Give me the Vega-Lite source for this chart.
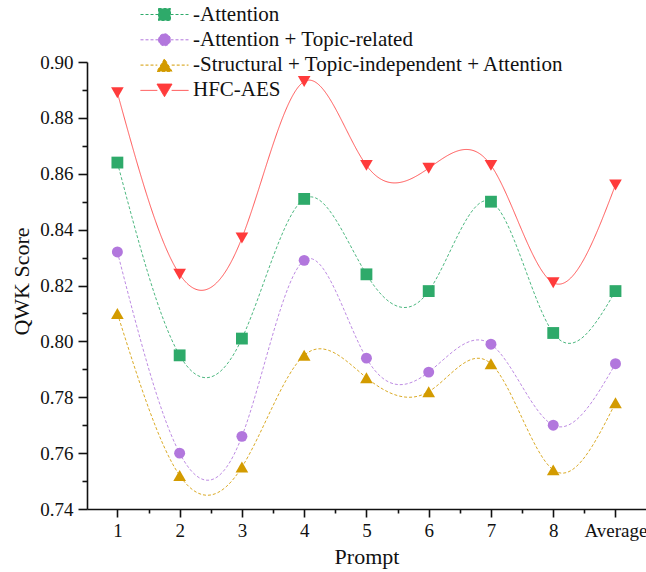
{
  "$schema": "https://vega.github.io/schema/vega-lite/v6.json",
  "width": 559,
  "height": 447,
  "autosize": {"type": "none"},
  "padding": {"left": 87, "top": 62, "right": 0, "bottom": 63},
  "background": "white",
  "config": {
    "view": {"stroke": null},
    "font": "Liberation Serif",
    "axis": {"labelFont": "Liberation Serif", "titleFont": "Liberation Serif", "labelColor": "#111", "titleColor": "#111", "domainColor": "#111", "tickColor": "#111", "titleFontWeight": "normal"},
    "legend": {"labelFont": "Liberation Serif"}
  },
  "data": {
    "values": [
      {"prompt": 1, "series": "-Attention", "qwk": 0.864},
      {"prompt": 2, "series": "-Attention", "qwk": 0.795},
      {"prompt": 3, "series": "-Attention", "qwk": 0.801},
      {"prompt": 4, "series": "-Attention", "qwk": 0.851},
      {"prompt": 5, "series": "-Attention", "qwk": 0.824},
      {"prompt": 6, "series": "-Attention", "qwk": 0.818},
      {"prompt": 7, "series": "-Attention", "qwk": 0.850},
      {"prompt": 8, "series": "-Attention", "qwk": 0.803},
      {"prompt": 9, "series": "-Attention", "qwk": 0.818},
      {"prompt": 1, "series": "-Attention + Topic-related", "qwk": 0.832},
      {"prompt": 2, "series": "-Attention + Topic-related", "qwk": 0.760},
      {"prompt": 3, "series": "-Attention + Topic-related", "qwk": 0.766},
      {"prompt": 4, "series": "-Attention + Topic-related", "qwk": 0.829},
      {"prompt": 5, "series": "-Attention + Topic-related", "qwk": 0.794},
      {"prompt": 6, "series": "-Attention + Topic-related", "qwk": 0.789},
      {"prompt": 7, "series": "-Attention + Topic-related", "qwk": 0.799},
      {"prompt": 8, "series": "-Attention + Topic-related", "qwk": 0.770},
      {"prompt": 9, "series": "-Attention + Topic-related", "qwk": 0.792},
      {"prompt": 1, "series": "-Structural + Topic-independent + Attention", "qwk": 0.810},
      {"prompt": 2, "series": "-Structural + Topic-independent + Attention", "qwk": 0.752},
      {"prompt": 3, "series": "-Structural + Topic-independent + Attention", "qwk": 0.755},
      {"prompt": 4, "series": "-Structural + Topic-independent + Attention", "qwk": 0.795},
      {"prompt": 5, "series": "-Structural + Topic-independent + Attention", "qwk": 0.787},
      {"prompt": 6, "series": "-Structural + Topic-independent + Attention", "qwk": 0.782},
      {"prompt": 7, "series": "-Structural + Topic-independent + Attention", "qwk": 0.792},
      {"prompt": 8, "series": "-Structural + Topic-independent + Attention", "qwk": 0.754},
      {"prompt": 9, "series": "-Structural + Topic-independent + Attention", "qwk": 0.778},
      {"prompt": 1, "series": "HFC-AES", "qwk": 0.889},
      {"prompt": 2, "series": "HFC-AES", "qwk": 0.824},
      {"prompt": 3, "series": "HFC-AES", "qwk": 0.837},
      {"prompt": 4, "series": "HFC-AES", "qwk": 0.893},
      {"prompt": 5, "series": "HFC-AES", "qwk": 0.863},
      {"prompt": 6, "series": "HFC-AES", "qwk": 0.862},
      {"prompt": 7, "series": "HFC-AES", "qwk": 0.863},
      {"prompt": 8, "series": "HFC-AES", "qwk": 0.821},
      {"prompt": 9, "series": "HFC-AES", "qwk": 0.856}
    ]
  },
  "encoding": {
    "x": {
      "field": "prompt", "type": "quantitative",
      "scale": {"domain": [0.512, 9.49], "nice": false, "zero": false},
      "axis": {
        "title": "Prompt", "titleFontSize": 22, "titlePadding": 6,
        "values": [1, 1.5, 2, 2.5, 3, 3.5, 4, 4.5, 5, 5.5, 6, 6.5, 7, 7.5, 8, 8.5, 9],
        "labelExpr": "datum.value == 9 ? 'Average' : (datum.value % 1 == 0 ? format(datum.value, 'd') : '')",
        "labelFontSize": 19, "labelPadding": 4, "labelFlush": false, "labelOverlap": false,
        "grid": false, "domainWidth": 1.6, "tickWidth": 1.6,
        "tickSize": {"condition": {"test": "datum.value % 1 != 0", "value": 4}, "value": 8}
      }
    },
    "y": {
      "field": "qwk", "type": "quantitative",
      "scale": {"domain": [0.74, 0.90], "nice": false, "zero": false},
      "axis": {
        "title": "QWK Score", "titleFontSize": 22, "titlePadding": 6, "titleY": 219,
        "values": [0.74, 0.75, 0.76, 0.77, 0.78, 0.79, 0.80, 0.81, 0.82, 0.83, 0.84, 0.85, 0.86, 0.87, 0.88, 0.89, 0.90],
        "labelExpr": "round(datum.value * 100) % 2 == 0 ? format(datum.value, '.2f') : ''",
        "labelFontSize": 19, "labelPadding": 5, "labelOverlap": false, "labelFlush": false,
        "grid": false, "domainWidth": 1.6, "tickWidth": 1.6,
        "tickSize": {"condition": {"test": "round(datum.value * 100) % 2 != 0", "value": 5}, "value": 9}
      }
    },
    "color": {
      "field": "series", "type": "nominal",
      "scale": {
        "domain": ["-Attention", "-Attention + Topic-related", "-Structural + Topic-independent + Attention", "HFC-AES"],
        "range": ["#2eaa6a", "#b277dd", "#d39b00", "#ff3b3b"]
      },
      "legend": {
        "title": null, "orient": "none", "legendX": 67, "legendY": -58,
        "padding": 0, "labelFontSize": 21, "labelColor": "#111", "labelOffset": 18,
        "symbolSize": 144, "rowPadding": 3.3, "labelLimit": 400,
        "encode": {
          "symbols": {
            "update": {
              "shape": {"signal": "datum.value == '-Attention' ? 'M-4,0H-1M1,0H4M-1,-1H1V1H-1Z' : datum.value == '-Attention + Topic-related' ? 'M-4,0H-1M1,0H4M-1,0A1,1 0 1,0 1,0A1,1 0 1,0 -1,0Z' : datum.value == 'HFC-AES' ? 'M-4,0H-1.2M1.2,0H4M-1.25,-1.05H1.25L0,1.05Z' : 'M-4,0H-1.2M1.2,0H4M-1.25,1.05H1.25L0,-1.05Z'"},
              "strokeDash": {"signal": "datum.value == 'HFC-AES' ? [1, 0] : [3, 2]"},
              "stroke": {"scale": "color", "field": "value"},
              "strokeWidth": {"value": 1},
              "size": {"value": 144},
              "opacity": {"value": 1}
            }
          }
        }
      }
    }
  },
  "layer": [
    {
      "mark": {"type": "line", "interpolate": "natural", "strokeWidth": 1, "strokeOpacity": 0.85},
      "encoding": {
        "strokeDash": {
          "field": "series", "type": "nominal",
          "scale": {
            "domain": ["-Attention", "-Attention + Topic-related", "-Structural + Topic-independent + Attention", "HFC-AES"],
            "range": [[3, 2], [3, 2], [3, 2], [1, 0]]
          },
          "legend": null
        }
      }
    },
    {
      "transform": [{"filter": "datum.series == '-Attention'"}],
      "mark": {"type": "point", "shape": "square", "filled": true, "opacity": 1, "size": 140}
    },
    {
      "transform": [{"filter": "datum.series == '-Attention + Topic-related'"}],
      "mark": {"type": "point", "shape": "circle", "filled": true, "opacity": 1, "size": 120}
    },
    {
      "transform": [{"filter": "datum.series == '-Structural + Topic-independent + Attention'"}],
      "mark": {"type": "point", "shape": "triangle-up", "filled": true, "opacity": 1, "size": 160}
    },
    {
      "transform": [{"filter": "datum.series == 'HFC-AES'"}],
      "mark": {"type": "point", "shape": "triangle-down", "filled": true, "opacity": 1, "size": 160}
    }
  ]
}
